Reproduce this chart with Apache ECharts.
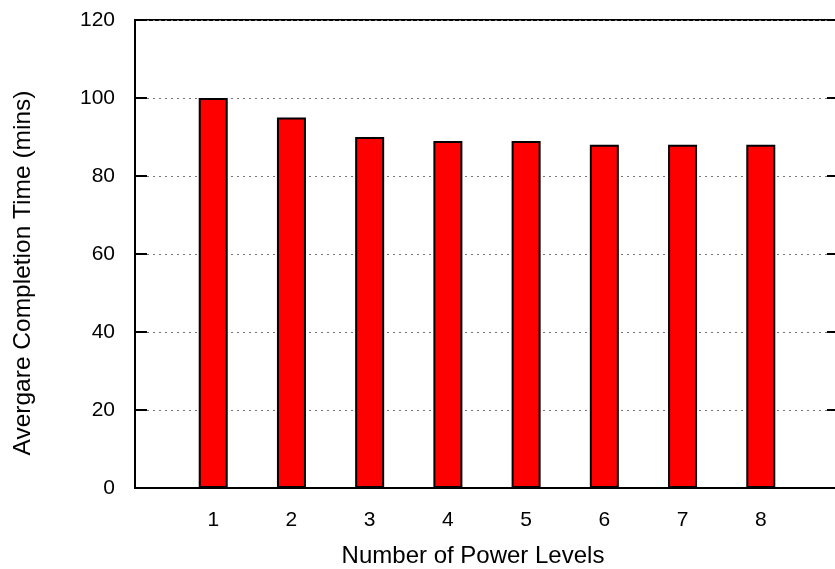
<!DOCTYPE html>
<html>
<head>
<meta charset="utf-8">
<script src="https://cdn.jsdelivr.net/npm/echarts@6/dist/echarts.min.js"></script>
<style>html,body{margin:0;padding:0;background:#fff;}#c{width:835px;height:569px;}</style>
</head>
<body>
<div id="c"></div>
<script>
const categories = [1, 2, 3, 4, 5, 6, 7, 8];
const values = [100, 95, 90, 89, 89, 88, 88, 88];
const yTicks = [0, 20, 40, 60, 80, 100, 120];
const xLabel = 'Number of Power Levels';
const yLabel = 'Avergare Completion Time (mins)';

const font = 'Liberation Sans, Arial, Helvetica, sans-serif';
const chart = echarts.init(document.getElementById('c'), null, {renderer: 'canvas'});
chart.setOption({
  animation: false,
  backgroundColor: '#fff',
  grid: {left: 135, top: 20, width: 704, height: 468, outerBoundsMode: 'none', containLabel: false,
    show: true, borderColor: '#000', borderWidth: 2, backgroundColor: 'transparent'},
  xAxis: {
    type: 'value', min: 0, max: 9, interval: 1,
    name: xLabel, nameLocation: 'middle', nameGap: 56,
    nameTextStyle: {fontFamily: font, fontSize: 24, color: '#000', padding: [0, 28, 0, 0]},
    axisLine: {show: true, lineStyle: {color: '#000', width: 2}},
    axisTick: {show: false},
    splitLine: {show: false},
    axisLabel: {fontFamily: font, fontSize: 21, color: '#000', margin: 22,
      formatter: v => (categories.indexOf(v) >= 0 ? String(v) : '')}
  },
  yAxis: [{
    type: 'value', min: yTicks[0], max: yTicks[yTicks.length - 1], interval: 20,
    name: yLabel, nameLocation: 'middle', nameGap: 99,
    nameTextStyle: {fontFamily: font, fontSize: 24.5, color: '#000', padding: [0, 38, 0, 0]},
    axisLine: {show: true, lineStyle: {color: '#000', width: 2}},
    axisTick: {show: true, inside: true, length: 12, lineStyle: {color: '#000', width: 2}},
    splitLine: {show: true, lineStyle: {color: '#777', type: [2, 4], width: 1}},
    axisLabel: {fontFamily: font, fontSize: 21, color: '#000', margin: 20}
  }, {
    type: 'value', min: yTicks[0], max: yTicks[yTicks.length - 1], interval: 20, position: 'right',
    axisLine: {show: true, lineStyle: {color: '#000', width: 2}},
    axisTick: {show: true, inside: true, length: 12, lineStyle: {color: '#000', width: 2}},
    splitLine: {show: false},
    axisLabel: {show: false}
  }],
  series: [{
    type: 'bar',
    barWidth: 29,
    data: categories.map((c, i) => [c, values[i]]),
    itemStyle: {color: '#ff0000', borderColor: '#000', borderWidth: 2},
    z: 3
  }]
});
</script>
</body>
</html>
